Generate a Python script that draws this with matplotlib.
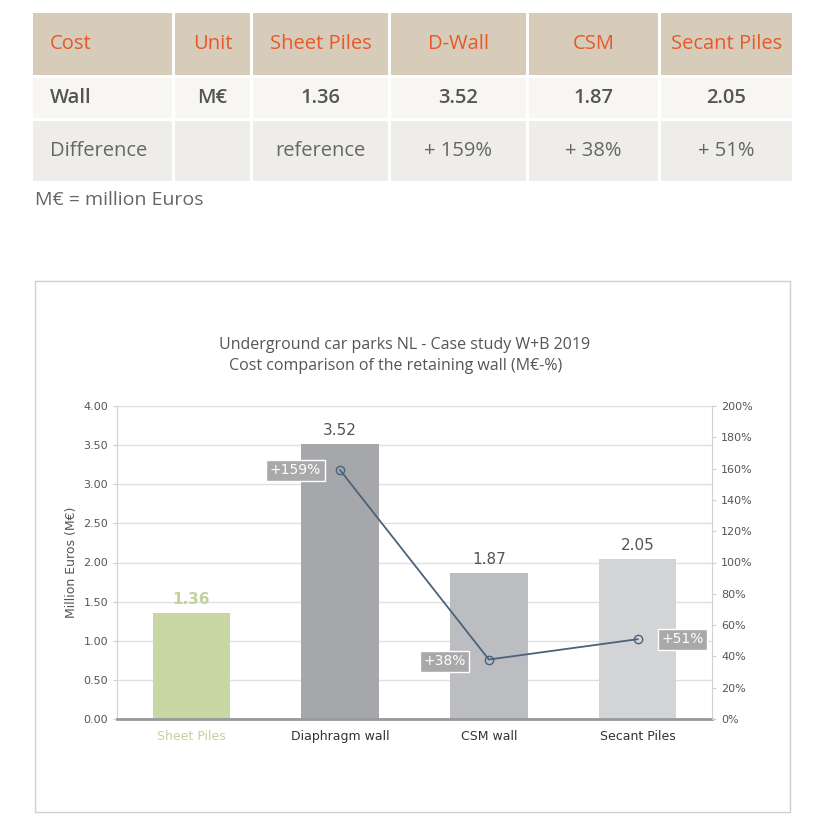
import matplotlib.pyplot as plt
from matplotlib.patches import Rectangle

# table data
col_heads = ["Cost", "Unit", "Sheet Piles", "D-Wall", "CSM", "Secant Piles"]
wall_row = ["Wall", "M€", "1.36", "3.52", "1.87", "2.05"]
diff_row = ["Difference", "", "reference", "+ 159%", "+ 38%", "+ 51%"]

# chart data
categories = ["Sheet Piles", "Diaphragm wall", "CSM wall", "Secant Piles"]
costs = [1.36, 3.52, 1.87, 2.05]
diff_pct = [None, 159, 38, 51]
bar_colors = ["#c9d7a4", "#a6a7ab", "#bcbdc1", "#d3d4d6"]

W = H = 825
fig = plt.figure(figsize=(8.25, 8.25), dpi=100)


def px(x, y):
    return x / W, 1 - y / H


# table drawn in pixel coordinates
col_edges = [(33, 172), (175, 250), (253, 388), (391, 526), (529, 658), (661, 792)]
rows = [((13, 75), "#d6ccb9", col_heads, "#e8582a", 14.5, "normal"),
        ((78, 118), "#f7f6f3", wall_row, "#555555", 14.5, "bold"),
        ((121, 181), "#eeede9", diff_row, "#666666", 14.5, "normal")]
for (y0, y1), bg, texts, tc, fs, fw in rows:
    for i, (x0, x1) in enumerate(col_edges):
        fx, fy = px(x0, y1)
        fig.add_artist(Rectangle((fx, fy), (x1 - x0) / W, (y1 - y0) / H,
                                 transform=fig.transFigure, color=bg, lw=0))
        if i == 0:
            tx, ha = x0 + 17, "left"
        else:
            tx, ha = (x0 + x1) / 2, "center"
        weight = "normal" if (i == 0 and fw == "bold") else fw
        fig.text(*px(tx, (y0 + y1) / 2), texts[i], ha=ha, va="center",
                 color=tc, fontsize=fs, family="Open Sans",
                 fontweight="semibold" if fw == "bold" or (y0 == 78 and i == 0) else "normal")
fig.text(*px(35, 200), "M€ = million Euros", ha="left", va="center",
         color="#666666", fontsize=14, family="Open Sans")

# chart frame
fx, fy = px(35, 812)
fig.add_artist(Rectangle((fx, fy), 755 / W, 531 / H, transform=fig.transFigure,
                         fill=False, edgecolor="#cfcfcf", lw=1))
fig.text(*px(405, 345), "Underground car parks NL - Case study W+B 2019",
         ha="center", va="center", fontsize=11.5, color="#555555", family="Open Sans")
fig.text(*px(396, 366), "Cost comparison of the retaining wall (M€-%)",
         ha="center", va="center", fontsize=11.5, color="#555555", family="Open Sans")

l, b = px(117, 719)
ax = fig.add_axes([l, b, (712 - 117) / W, (719 - 406) / H])
x = range(len(categories))
bars = ax.bar(x, costs, width=0.52, color=bar_colors, zorder=2)
ax.set_xlim(-0.5, 3.5)
ax.set_ylim(0, 4)
ax.set_yticks([i * 0.5 for i in range(9)])
ax.set_yticklabels([f"{i * 0.5:.2f}" for i in range(9)])
ax.grid(axis="y", color="#e0e0e0", lw=1, zorder=0)
ax.set_xticks(list(x))
ax.set_xticklabels(categories)
for s in ["top", "right"]:
    ax.spines[s].set_visible(False)
ax.spines["left"].set_color("#d0d0d0")
ax.spines["bottom"].set_color("#999999")
ax.spines["bottom"].set_linewidth(2)
ax.tick_params(axis="y", labelsize=8, colors="#555555", length=3, color="#d0d0d0")
ax.tick_params(axis="x", labelsize=9, colors="#333333", length=0, pad=8)
ax.get_xticklabels()[0].set_color("#c3d29b")
ax.set_ylabel("Million Euros (M€)", fontsize=9, color="#555555")
for i, v in enumerate(costs):
    ax.text(i, v + 0.07, f"{v:.2f}", ha="center", va="bottom", fontsize=11,
            color="#c3d29b" if i == 0 else "#555555",
            fontweight="bold" if i == 0 else "normal")

ax2 = ax.twinx()
ax2.set_ylim(0, 200)
ax2.set_yticks(range(0, 201, 20))
ax2.set_yticklabels([f"{v}%" for v in range(0, 201, 20)])
for s in ["top", "left", "bottom"]:
    ax2.spines[s].set_visible(False)
ax2.spines["right"].set_color("#d0d0d0")
ax2.tick_params(axis="y", labelsize=8, colors="#555555", length=3, color="#d0d0d0")
lx = [1, 2, 3]
ly = diff_pct[1:]
ax2.plot(lx, ly, color="#4a637a", lw=1.3, marker="o", markersize=6,
         markerfacecolor="none", markeredgecolor="#4a637a", zorder=3)
offsets = [(-0.3, 0), (-0.3, -1), (0.3, 0)]
for (xx, yy), (dx, dy) in zip(zip(lx, ly), offsets):
    ax2.text(xx + dx, yy + dy, f"+{yy}%", ha="center", va="center", fontsize=10,
             color="white", bbox=dict(facecolor="#a9a9ab", edgecolor="white",
                                      boxstyle="square,pad=0.25"))

fig.savefig("out.png", dpi=100, facecolor="white")
